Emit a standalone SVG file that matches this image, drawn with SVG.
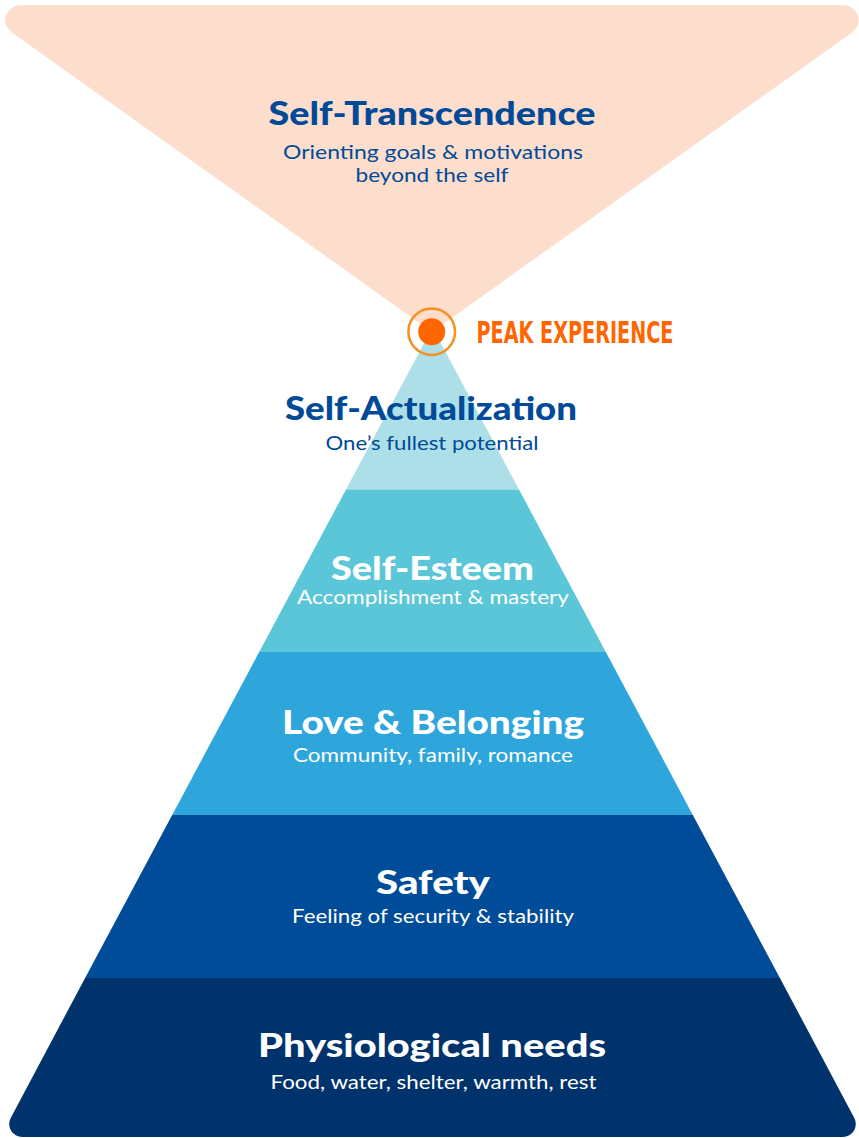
<svg xmlns="http://www.w3.org/2000/svg" width="859" height="1138" viewBox="0 0 859 1138">
<style>
.h{font-family:Lato,"Open Sans","Liberation Sans",sans-serif;font-weight:900;font-size:32.5px;text-anchor:middle}
.s{font-family:Lato,"Open Sans","Liberation Sans",sans-serif;font-weight:400;font-size:20px;text-anchor:middle}
.dk{fill:#004A98}
.wh{fill:#FFFFFF}
.peak{font-family:"DejaVu Sans Condensed","DejaVu Sans","Liberation Sans",sans-serif;font-stretch:condensed;font-weight:bold;font-size:30px;fill:#FF6600}
</style>
<rect width="859" height="1138" fill="#FFFFFF"/>
<g id="self-transcendence">
<path d="M20.3,5 L843.7,5 A15 15 0 0 1 852.4,32.2 L432,332 L11.6,32.2 A15 15 0 0 1 20.3,5 Z" fill="#FDDDCB"/>
<text class="h dk" x="432" y="125" textLength="327" lengthAdjust="spacingAndGlyphs">Self-Transcendence</text>
<text class="s dk" x="433" y="159" textLength="300" lengthAdjust="spacingAndGlyphs">Orienting goals &amp; motivations</text>
<text class="s dk" x="432" y="182" textLength="153" lengthAdjust="spacingAndGlyphs">beyond the self</text>
</g>
<g id="self-actualization">
<path d="M432.5,327.5 L519,489.5 L346,489.5 Z" fill="#ADDFE9"/>
<text class="h dk" x="431" y="420" textLength="292" lengthAdjust="spacingAndGlyphs">Self-Actualization</text>
<text class="s dk" x="432" y="450" textLength="213" lengthAdjust="spacingAndGlyphs">One’s fullest potential</text>
</g>
<g id="self-esteem">
<path d="M346,489.5 L519,489.5 L605.8,652 L259.2,652 Z" fill="#5BC6D8"/>
<text class="h wh" x="432.5" y="580" textLength="203" lengthAdjust="spacingAndGlyphs">Self-Esteem</text>
<text class="s wh" x="433" y="604" textLength="272" lengthAdjust="spacingAndGlyphs">Accomplishment &amp; mastery</text>
</g>
<g id="love-belonging">
<path d="M259.2,652 L605.8,652 L692.8,815 L172.2,815 Z" fill="#2EA6DC"/>
<text class="h wh" x="433" y="734" textLength="302" lengthAdjust="spacingAndGlyphs">Love &amp; Belonging</text>
<text class="s wh" x="433" y="762" textLength="280" lengthAdjust="spacingAndGlyphs">Community, family, romance</text>
</g>
<g id="safety">
<path d="M172.2,815 L692.8,815 L779.9,978 L85.1,978 Z" fill="#004C99"/>
<text class="h wh" x="433" y="894" textLength="114" lengthAdjust="spacingAndGlyphs">Safety</text>
<text class="s wh" x="433" y="923" textLength="282" lengthAdjust="spacingAndGlyphs">Feeling of security &amp; stability</text>
</g>
<g id="physiological">
<path d="M85.1,978 L779.9,978 L854.3,1118 A13 13 0 0 1 842.9,1137 L22.1,1137 A13 13 0 0 1 10.7,1118 Z" fill="#00336B"/>
<text class="h wh" x="432" y="1057" textLength="348" lengthAdjust="spacingAndGlyphs">Physiological needs</text>
<text class="s wh" x="433.5" y="1089" textLength="326" lengthAdjust="spacingAndGlyphs">Food, water, shelter, warmth, rest</text>
</g>
<g id="peak-experience">
<circle cx="431.7" cy="331.7" r="23.3" fill="none" stroke="#F7901E" stroke-width="2.5"/>
<circle cx="431.7" cy="331.7" r="13.5" fill="#FF6600"/>
<text class="peak" x="476.5" y="343.3" textLength="197" lengthAdjust="spacingAndGlyphs">PEAK EXPERIENCE</text>
</g>
<g id="connectors"/>
</svg>
